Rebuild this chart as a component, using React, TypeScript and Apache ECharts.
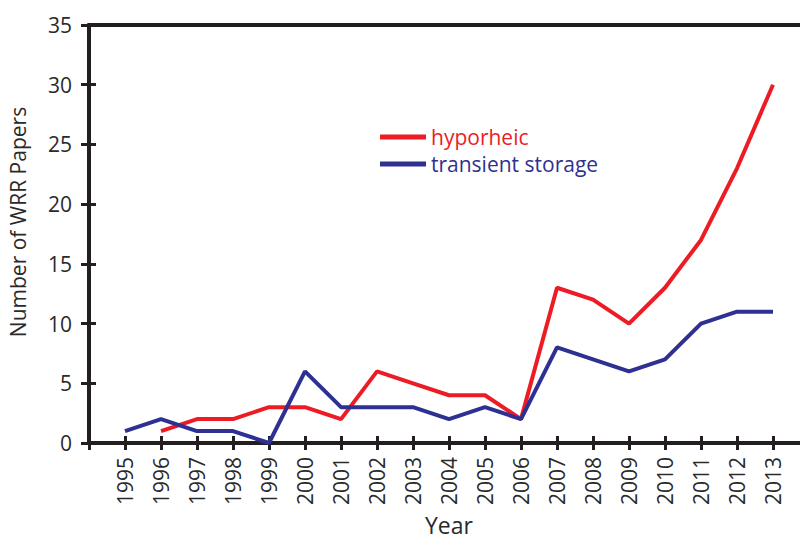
import React, { useEffect, useRef } from "react";
import * as echarts from "echarts";

const years = [1995, 1996, 1997, 1998, 1999, 2000, 2001, 2002, 2003, 2004, 2005, 2006, 2007, 2008, 2009, 2010, 2011, 2012, 2013];
const hyporheic = [null, 1, 2, 2, 3, 3, 2, 6, 5, 4, 4, 2, 13, 12, 10, 13, 17, 23, 30];
const transientStorage = [1, 2, 1, 1, 0, 6, 3, 3, 3, 2, 3, 2, 8, 7, 6, 7, 10, 11, 11];

const RED = "#ed1c24";
const BLUE = "#2e3192";
const AXIS = "#231f20";
const TEXT = "#2a2a2a";
const FONT = "'Open Sans', sans-serif";

export default function App() {
  const ref = useRef<HTMLDivElement>(null);
  useEffect(() => {
    if (!ref.current) return;
    const chart = echarts.init(ref.current, undefined, { renderer: "svg" });
    const toPairs = (arr: (number | null)[]) =>
      years.map((y, i) => [y, arr[i]]).filter((p) => p[1] !== null);
    const xBase = {
      type: "value" as const,
      min: 1994,
      max: 2014,
      interval: 1,
      position: "bottom" as const,
      splitLine: { show: false },
      axisLine: { show: true, onZero: false, lineStyle: { color: AXIS, width: 4 } },
    };
    const yBase = {
      type: "value" as const,
      min: 0,
      max: 35,
      interval: 5,
      position: "left" as const,
      splitLine: { show: false },
      axisLine: { show: true, onZero: false, lineStyle: { color: AXIS, width: 4 } },
    };
    chart.setOption({
      animation: false,
      grid: { left: 89, right: 11, top: 25, bottom: 95, containLabel: false, outerBoundsMode: "none" },
      legend: {
        orient: "vertical",
        left: 375,
        top: 121,
        icon: "rect",
        itemWidth: 46,
        itemHeight: 5,
        itemGap: 5,
        itemTextGap: 12,
        selectedMode: false,
        textStyle: { fontFamily: FONT, fontSize: 21, lineHeight: 22 },
        data: [
          { name: "hyporheic", textStyle: { color: RED } },
          { name: "transient storage", textStyle: { color: BLUE } },
        ],
      },
      xAxis: [
        {
          ...xBase,
          name: "Year",
          nameLocation: "middle",
          nameGap: 60,
          nameTextStyle: { fontFamily: FONT, fontSize: 23, lineHeight: 24, color: TEXT },
          axisTick: { show: true, inside: false, length: 7, lineStyle: { color: AXIS, width: 3 } },
          axisLabel: {
            rotate: 90,
            margin: 14,
            fontFamily: FONT,
            fontSize: 21,
            color: TEXT,
            formatter: (v: number) => (v >= 1995 && v <= 2013 ? String(v) : ""),
          },
        },
        {
          ...xBase,
          axisTick: { show: true, inside: true, length: 7, lineStyle: { color: AXIS, width: 3 } },
          axisLabel: { show: false },
        },
        {
          ...xBase,
          position: "top",
          axisTick: { show: false },
          axisLabel: { show: false },
        },
      ],
      yAxis: [
        {
          ...yBase,
          name: "Number of WRR Papers",
          nameLocation: "middle",
          nameGap: 61,
          nameRotate: 90,
          nameTextStyle: { fontFamily: FONT, fontSize: 21, color: TEXT, padding: [0, 0, 0, 24] },
          axisTick: { show: true, inside: false, length: 8, lineStyle: { color: AXIS, width: 3 } },
          axisLabel: { margin: 17, fontFamily: FONT, fontSize: 21, color: TEXT },
        },
        {
          ...yBase,
          axisTick: { show: true, inside: true, length: 7, lineStyle: { color: AXIS, width: 3 } },
          axisLabel: { show: false },
        },
      ],
      series: [
        {
          name: "hyporheic",
          type: "line",
          xAxisIndex: 0,
          yAxisIndex: 0,
          data: toPairs(hyporheic),
          showSymbol: false,
          symbol: "none",
          lineStyle: { color: RED, width: 4 },
          itemStyle: { color: RED },
          z: 3,
        },
        {
          name: "transient storage",
          type: "line",
          xAxisIndex: 0,
          yAxisIndex: 0,
          data: toPairs(transientStorage),
          showSymbol: false,
          symbol: "none",
          lineStyle: { color: BLUE, width: 4 },
          itemStyle: { color: BLUE },
          z: 4,
        },
      ],
    });
    return () => chart.dispose();
  }, []);
  return (
    <div style={{ position: "fixed", left: 0, top: 0, width: 800, height: 538, overflow: "hidden", background: "#fff" }}>
      <div ref={ref} style={{ width: 820, height: 538 }} />
    </div>
  );
}
